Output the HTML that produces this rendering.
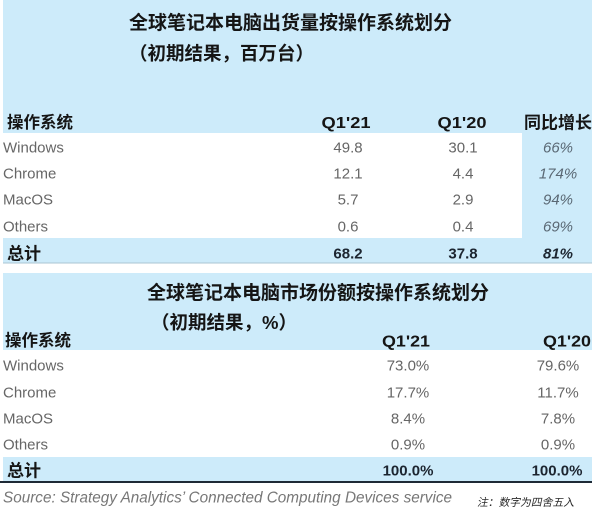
<!DOCTYPE html>
<html>
<head>
<meta charset="utf-8">
<style>
html,body{margin:0;padding:0;background:#ffffff;}
body{width:600px;height:518px;overflow:hidden;}
svg{display:block;}
.cjk{font-family:"Liberation Sans","Noto Sans CJK SC",sans-serif;font-weight:bold;fill:#151515;}
.lat{font-family:"Liberation Sans",sans-serif;}
.row{font-size:15px;fill:#666666;}
.val{font-size:15px;fill:#666666;text-anchor:middle;}
.gr{font-size:15px;fill:#5a6874;font-style:italic;text-anchor:middle;}
.hd{font-size:16px;font-weight:bold;fill:#151515;text-anchor:middle;}
.tot{font-size:15px;font-weight:bold;fill:#1c2530;text-anchor:middle;}
</style>
</head>
<body>
<svg width="600" height="518" viewBox="0 0 600 518" xmlns="http://www.w3.org/2000/svg">
  <rect x="3" y="0" width="589" height="263" fill="#cdebfa"/>
  <rect x="0" y="133" width="522" height="105" fill="#ffffff"/>
  <rect x="3" y="262.5" width="589" height="1" fill="#aac4d3"/>

  <text class="cjk" x="129" y="29" font-size="19">全球笔记本电脑出货量按操作系统划分</text>
  <text class="cjk" x="129" y="60" font-size="18.5">（初期结果，百万台）</text>

  <text class="cjk" x="7" y="128" font-size="16.5">操作系统</text>
  <text class="lat hd" x="346" y="128" textLength="49" lengthAdjust="spacingAndGlyphs">Q1'21</text>
  <text class="lat hd" x="462" y="128" textLength="49" lengthAdjust="spacingAndGlyphs">Q1'20</text>
  <text class="cjk" x="524" y="128.5" font-size="17">同比增长</text>

  <text class="lat row" x="3" y="152.5">Windows</text>
  <text class="lat row" x="3" y="178.5">Chrome</text>
  <text class="lat row" x="3" y="204.5">MacOS</text>
  <text class="lat row" x="3" y="231.5">Others</text>

  <text class="lat val" x="348" y="152.5">49.8</text>
  <text class="lat val" x="348" y="178.5">12.1</text>
  <text class="lat val" x="348" y="204.5">5.7</text>
  <text class="lat val" x="348" y="231.5">0.6</text>

  <text class="lat val" x="463" y="152.5">30.1</text>
  <text class="lat val" x="463" y="178.5">4.4</text>
  <text class="lat val" x="463" y="204.5">2.9</text>
  <text class="lat val" x="463" y="231.5">0.4</text>

  <text class="lat gr" x="558" y="152.5">66%</text>
  <text class="lat gr" x="558" y="178.5">174%</text>
  <text class="lat gr" x="558" y="204.5">94%</text>
  <text class="lat gr" x="558" y="231.5">69%</text>

  <text class="cjk" x="7" y="259.5" font-size="17">总计</text>
  <text class="lat tot" x="348" y="258.5">68.2</text>
  <text class="lat tot" x="463" y="258.5">37.8</text>
  <text class="lat tot" x="558" y="258.5" font-style="italic">81%</text>

  <rect x="3" y="273" width="589" height="77" fill="#cdebfa"/>
  <text class="cjk" x="147" y="299" font-size="19">全球笔记本电脑市场份额按操作系统划分</text>
  <text class="cjk" x="151" y="329" font-size="18.5">（初期结果，%）</text>

  <text class="cjk" x="5" y="346" font-size="16.5">操作系统</text>
  <text class="lat hd" x="406" y="346.5" textLength="48" lengthAdjust="spacingAndGlyphs">Q1'21</text>
  <text class="lat hd" x="567" y="346.5" textLength="48" lengthAdjust="spacingAndGlyphs">Q1'20</text>

  <text class="lat row" x="3" y="370.5">Windows</text>
  <text class="lat row" x="3" y="397.5">Chrome</text>
  <text class="lat row" x="3" y="423.5">MacOS</text>
  <text class="lat row" x="3" y="449.5">Others</text>

  <text class="lat val" x="408" y="370.5">73.0%</text>
  <text class="lat val" x="408" y="397.5">17.7%</text>
  <text class="lat val" x="408" y="423.5">8.4%</text>
  <text class="lat val" x="408" y="449.5">0.9%</text>

  <text class="lat val" x="558" y="370.5">79.6%</text>
  <text class="lat val" x="558" y="397.5">11.7%</text>
  <text class="lat val" x="558" y="423.5">7.8%</text>
  <text class="lat val" x="558" y="449.5">0.9%</text>

  <rect x="3" y="457" width="589" height="24" fill="#cdebfa"/>
  <rect x="0" y="481" width="592" height="2" fill="#1e2a36"/>
  <text class="cjk" x="7" y="476.5" font-size="17">总计</text>
  <text class="lat tot" x="408" y="475.5">100.0%</text>
  <text class="lat tot" x="557" y="475.5">100.0%</text>

  <text class="lat" x="3" y="502.5" font-size="15.5" font-style="italic" fill="#777777" textLength="449" lengthAdjust="spacingAndGlyphs">Source: Strategy Analytics’ Connected Computing Devices service</text>
  <g transform="translate(477,506) skewX(-12)">
    <text x="0" y="0" font-family="'Liberation Sans','Noto Sans CJK SC',sans-serif" font-size="10.8" fill="#2a2a2a">注：数字为四舍五入</text>
  </g>
</svg>
</body>
</html>
